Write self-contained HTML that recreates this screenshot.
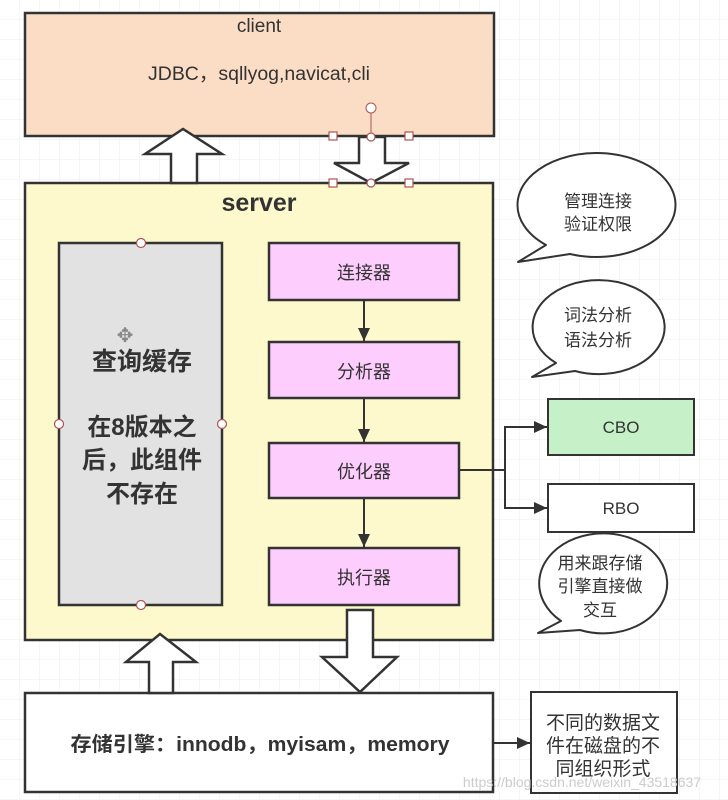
<!DOCTYPE html>
<html><head><meta charset="utf-8"><style>
body{margin:0;background:#fff}
svg{display:block}
text{font-family:"Liberation Sans","Noto Sans CJK SC",sans-serif;fill:#333}
</style></head><body>
<svg width="728" height="800" viewBox="0 0 728 800" xmlns="http://www.w3.org/2000/svg">
<defs>
<pattern id="g" width="20" height="20" patternUnits="userSpaceOnUse"><path d="M20 0V20H0" fill="none" stroke="#eee" stroke-width="1"/></pattern>
<marker id="a" markerWidth="14" markerHeight="14" refX="13" refY="6" orient="auto" markerUnits="userSpaceOnUse"><path d="M0,0 L13,6 L0,12z" fill="#333"/></marker>
</defs>
<rect width="728" height="800" fill="url(#g)"/>
<!-- client -->
<rect x="25" y="13" width="469" height="123" fill="#fbdcc4" stroke="#333" stroke-width="2.5"/>
<text x="259" y="32" font-size="19" text-anchor="middle">client</text>
<text x="259" y="80" font-size="19" text-anchor="middle" textLength="222" lengthAdjust="spacingAndGlyphs">JDBC，sqllyog,navicat,cli</text>
<!-- server -->
<rect x="25" y="183" width="468" height="457" fill="#fdf9cc" stroke="#333" stroke-width="2.5"/>
<text x="259" y="211" font-size="25" font-weight="bold" text-anchor="middle">server</text>
<!-- arrows client/server -->
<path d="M171,183 V154 H145 L183,129 L222,154 H197 V183z" fill="#fff" stroke="#333" stroke-width="2.5"/>
<path d="M359,137 V163 H334 L371,183 L409,163 H385 V137z" fill="#fff" stroke="#333" stroke-width="2.5"/>
<line x1="371" y1="108" x2="371" y2="137" stroke="#a55" stroke-width="1"/>
<circle cx="371" cy="108" r="5" fill="#fff" stroke="#a55"/>
<g fill="#fff" stroke="#a55" stroke-width="1.2">
<rect x="329" y="132" width="8" height="8"/><rect x="405" y="132" width="8" height="8"/>
<rect x="329" y="179" width="8" height="8"/><rect x="405" y="179" width="8" height="8"/>
<circle cx="371" cy="137" r="4"/><circle cx="371" cy="183" r="4"/></g>
<!-- gray -->
<rect x="59" y="243" width="163" height="362" fill="#e2e2e2" stroke="#333" stroke-width="2.5"/>
<g fill="#fff" stroke="#a55" stroke-width="1.2"><circle cx="141" cy="243" r="4.5"/><circle cx="141" cy="605" r="4.5"/><circle cx="59" cy="424" r="4.5"/><circle cx="222" cy="424" r="4.5"/></g>
<text x="125" y="342" font-size="20" text-anchor="middle" style="fill:#888">✥</text>
<text x="142" y="370" font-size="25" font-weight="bold" text-anchor="middle">查询缓存</text>
<text x="142" y="435" font-size="24" font-weight="bold" text-anchor="middle">在8版本之</text>
<text x="142" y="468" font-size="24" font-weight="bold" text-anchor="middle">后，此组件</text>
<text x="142" y="502" font-size="24" font-weight="bold" text-anchor="middle">不存在</text>
<!-- pink -->
<g fill="#fdcdfd" stroke="#333" stroke-width="2.5">
<rect x="269" y="243" width="190" height="57"/><rect x="269" y="342" width="190" height="56"/>
<rect x="269" y="443" width="190" height="55"/><rect x="269" y="548" width="190" height="57"/></g>
<g font-size="18" text-anchor="middle">
<text x="364" y="279">连接器</text><text x="364" y="378">分析器</text>
<text x="364" y="478">优化器</text><text x="364" y="584">执行器</text></g>
<g stroke="#333" stroke-width="2" marker-end="url(#a)">
<line x1="364" y1="300" x2="364" y2="341"/><line x1="364" y1="398" x2="364" y2="442"/><line x1="364" y1="498" x2="364" y2="547"/>
<polyline points="459,470 505,470 505,427 547,427" fill="none"/>
<polyline points="505,470 505,508 547,508" fill="none"/>
<line x1="493" y1="743" x2="530" y2="743"/></g>
<!-- bubbles -->
<g fill="#fff" stroke="#333" stroke-width="2" stroke-linejoin="round">
<path d="M570,254 A79,52 0 1 0 546,245 L518,262 Z"/>
<path d="M575,371 A66,47 0 1 0 556,363 L532,377 Z"/>
<path d="M580,630 A64,50 0 1 0 561,621 L538,633 Z"/></g>
<g font-size="17" text-anchor="middle">
<text x="598" y="207">管理连接</text><text x="598" y="230">验证权限</text>
<text x="598" y="321">词法分析</text><text x="598" y="346">语法分析</text>
<text x="600" y="569">用来跟存储</text><text x="600" y="592">引擎直接做</text><text x="600" y="616">交互</text></g>
<!-- CBO RBO -->
<rect x="548" y="399" width="146" height="56" fill="#c6f0c8" stroke="#333" stroke-width="2"/>
<text x="621" y="433" font-size="17" text-anchor="middle">CBO</text>
<rect x="548" y="484" width="146" height="48" fill="#fff" stroke="#333" stroke-width="2"/>
<text x="621" y="514" font-size="17" text-anchor="middle">RBO</text>
<!-- bottom -->
<rect x="25" y="693" width="468" height="99" fill="#fff" stroke="#333" stroke-width="2.5"/>
<text x="260" y="751" font-size="20" font-weight="bold" text-anchor="middle" textLength="379" lengthAdjust="spacingAndGlyphs">存储引擎：innodb，myisam，memory</text>
<path d="M149,693 V662 H126 L160,634 L196,662 H173 V693z" fill="#fff" stroke="#333" stroke-width="2.5"/>
<path d="M347,610 V657 H322 L360,692 L397,657 H373 V610z" fill="#fff" stroke="#333" stroke-width="2.5"/>
<rect x="531" y="692" width="146" height="101" fill="#fff" stroke="#333" stroke-width="2"/>
<g font-size="19" text-anchor="middle"><text x="603" y="729">不同的数据文</text><text x="603" y="752">件在磁盘的不</text><text x="603" y="775">同组织形式</text></g>
<text x="582" y="787" font-size="14" text-anchor="middle" style="fill:#ccc">https://blog.csdn.net/weixin_43518637</text>
</svg>
</body></html>
